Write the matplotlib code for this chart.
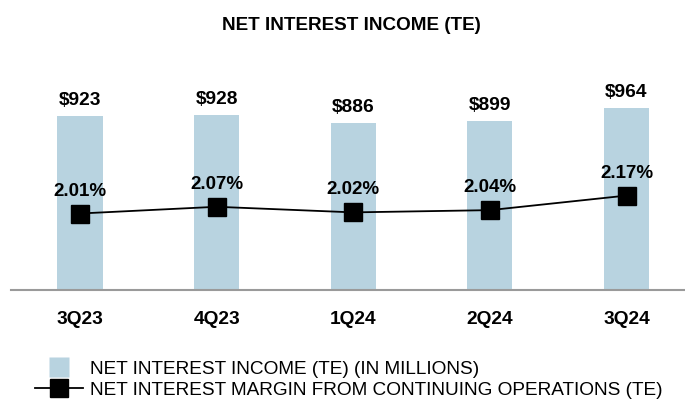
import matplotlib
matplotlib.use("Agg")
import matplotlib.pyplot as plt
from matplotlib.lines import Line2D

# --- dane ---
quarters = ["3Q23", "4Q23", "1Q24", "2Q24", "3Q24"]
nii = [923, 928, 886, 899, 964]          # net interest income (TE), $M
nim = [2.01, 2.07, 2.02, 2.04, 2.17]     # net interest margin, %

bar_color = "#B8D3E0"
plt.rcParams["font.family"] = ["Liberation Sans", "DejaVu Sans"]

fig = plt.figure(figsize=(6.85, 4.03), dpi=100)
ax = fig.add_axes([11 / 685, 113 / 403, 674 / 685, 230 / 403])
ax2 = ax.twinx()

x = list(range(len(quarters)))
ax.bar(x, nii, width=0.33, color=bar_color, zorder=1)
ax.set_ylim(0, 1220)
ax.set_xlim(-0.505, 4.428)

for xi, v in zip(x, nii):
    ax.annotate(f"${v}", (xi, v), xytext=(0, 5), textcoords="offset points",
                ha="center", va="bottom", fontsize=13.8, fontweight="bold")

# oś pomocnicza dla marży (%)
ax2.plot(x, nim, color="black", lw=1.3, marker="s", markersize=13.5, zorder=3)
ax2.set_ylim(2.01 - 76.5 / 112, 2.01 + 153.5 / 112)
for xi, v in zip(x, nim):
    ax2.annotate(f"{v:.2f}%", (xi, v), xytext=(0, 10), textcoords="offset points",
                 ha="center", va="bottom", fontsize=13.5, fontweight="bold")

for a in (ax, ax2):
    for s in ("top", "right", "left"):
        a.spines[s].set_visible(False)
    a.set_yticks([])
ax2.spines["bottom"].set_visible(False)
ax.spines["bottom"].set_color("#9a9a9a")
ax.spines["bottom"].set_linewidth(1.5)

ax.set_xticks(x)
ax.set_xticklabels(quarters, fontsize=13.8, fontweight="bold")
ax.tick_params(axis="x", length=0, pad=15)

fig.text(351 / 685, 1 - 30 / 403, "NET INTEREST INCOME (TE)", ha="center", va="baseline",
         fontsize=13.6, fontweight="bold")

handles = [
    Line2D([0], [0], color="none", marker="s", markersize=15,
           markerfacecolor=bar_color, markeredgecolor="none"),
    Line2D([0], [0], color="black", lw=1.3, marker="s", markersize=13,
           markerfacecolor="black"),
]
labels = ["NET INTEREST INCOME (TE) (IN MILLIONS)",
          "NET INTEREST MARGIN FROM CONTINUING OPERATIONS (TE)"]
fig.legend(handles, labels, loc="upper left", bbox_to_anchor=(35 / 685, 1 - 359 / 403),
           frameon=False, fontsize=13.7, handlelength=2.5, handletextpad=0.37,
           labelspacing=0.12, borderpad=0, borderaxespad=0, handleheight=1.0)

fig.savefig("out.png", dpi=100)
